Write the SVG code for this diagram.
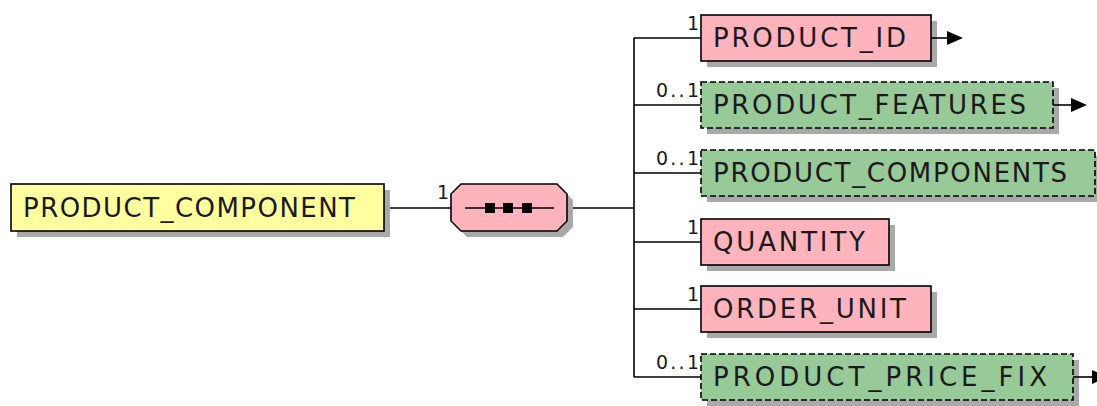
<svg xmlns="http://www.w3.org/2000/svg" width="1097" height="406" viewBox="0 0 1097 406">
<style>
.sh{fill:#a9a9a9;}
.box{stroke:#000;stroke-width:1.6;}
.req{fill:#ffb3bc;}
.opt{fill:#98c998;stroke-dasharray:6 3;}
.main{fill:#ffff9f;}
.lbl{font-family:"DejaVu Sans",sans-serif;font-size:26px;fill:#1a1a1a;}
.card{font-family:"DejaVu Sans",sans-serif;font-size:19px;fill:#1a1a1a;text-anchor:end;}
.ln{stroke:#000;stroke-width:1.6;fill:none;}
</style>
<defs>
<marker id="ah" viewBox="0 0 16 14" refX="0" refY="7" markerWidth="16" markerHeight="14" markerUnits="userSpaceOnUse" orient="auto">
<path d="M0,0 L16,7 L0,14 Z" fill="#000"/>
</marker>
</defs>
<g id="connectors">
<line class="ln" x1="384" y1="208" x2="451" y2="208"/>
<line class="ln" x1="567" y1="208" x2="634" y2="208"/>
<line class="ln" x1="634" y1="38" x2="634" y2="377"/>
<line class="ln" x1="634" y1="38" x2="701" y2="38"/>
<line class="ln" x1="634" y1="105" x2="701" y2="105"/>
<line class="ln" x1="634" y1="173" x2="701" y2="173"/>
<line class="ln" x1="634" y1="242" x2="701" y2="242"/>
<line class="ln" x1="634" y1="309" x2="701" y2="309"/>
<line class="ln" x1="634" y1="377" x2="701" y2="377"/>
<text class="card" x="449" y="199">1</text>
<text class="card" x="699" y="30">1</text>
<text class="card" x="699" y="97" textLength="43" lengthAdjust="spacing">0..1</text>
<text class="card" x="699" y="165" textLength="43" lengthAdjust="spacing">0..1</text>
<text class="card" x="699" y="234">1</text>
<text class="card" x="699" y="301">1</text>
<text class="card" x="699" y="369" textLength="43" lengthAdjust="spacing">0..1</text>
</g>
<g id="PRODUCT_COMPONENT">
<rect class="sh" x="17" y="190" width="373" height="47"/>
<rect class="box main" x="11" y="184" width="373" height="47"/>
<text class="lbl" x="23" y="217" textLength="332" lengthAdjust="spacing">PRODUCT_COMPONENT</text>
</g>
<g id="sequence">
<path class="sh" d="M467,190 H563 L573,200 V227 L563,237 H467 L457,227 V200 Z"/>
<path class="box req" d="M461,184 H557 L567,194 V221 L557,231 H461 L451,221 V194 Z"/>
<line class="ln" x1="465" y1="208" x2="554" y2="208"/>
<rect x="485" y="203" width="10" height="10" fill="#000"/>
<rect x="503" y="203" width="10" height="10" fill="#000"/>
<rect x="522" y="203" width="10" height="10" fill="#000"/>
</g>
<g id="PRODUCT_ID">
<rect class="sh" x="707" y="21" width="230" height="46"/>
<rect class="box req" x="701" y="15" width="230" height="46"/>
<text class="lbl" x="713" y="47" textLength="193" lengthAdjust="spacing">PRODUCT_ID</text>
<line class="ln" x1="931" y1="38" x2="947" y2="38" marker-end="url(#ah)"/>
</g>
<g id="PRODUCT_FEATURES">
<rect class="sh" x="707" y="88" width="352" height="46"/>
<rect class="box opt" x="701" y="82" width="352" height="46"/>
<text class="lbl" x="713" y="114" textLength="313" lengthAdjust="spacing">PRODUCT_FEATURES</text>
<line class="ln" x1="1053" y1="105" x2="1071" y2="105" marker-end="url(#ah)"/>
</g>
<g id="PRODUCT_COMPONENTS">
<rect class="sh" x="707" y="156" width="394" height="46"/>
<rect class="box opt" x="701" y="150" width="394" height="46"/>
<text class="lbl" x="713" y="182" textLength="354" lengthAdjust="spacing">PRODUCT_COMPONENTS</text>
</g>
<g id="QUANTITY">
<rect class="sh" x="707" y="225" width="188" height="46"/>
<rect class="box req" x="701" y="219" width="188" height="46"/>
<text class="lbl" x="713" y="251" textLength="152" lengthAdjust="spacing">QUANTITY</text>
</g>
<g id="ORDER_UNIT">
<rect class="sh" x="707" y="292" width="230" height="46"/>
<rect class="box req" x="701" y="286" width="230" height="46"/>
<text class="lbl" x="713" y="318" textLength="193" lengthAdjust="spacing">ORDER_UNIT</text>
</g>
<g id="PRODUCT_PRICE_FIX">
<rect class="sh" x="707" y="360" width="372" height="46"/>
<rect class="box opt" x="701" y="354" width="372" height="46"/>
<text class="lbl" x="713" y="386" textLength="334" lengthAdjust="spacing">PRODUCT_PRICE_FIX</text>
<line class="ln" x1="1073" y1="377" x2="1092" y2="377" marker-end="url(#ah)"/>
</g>
</svg>
